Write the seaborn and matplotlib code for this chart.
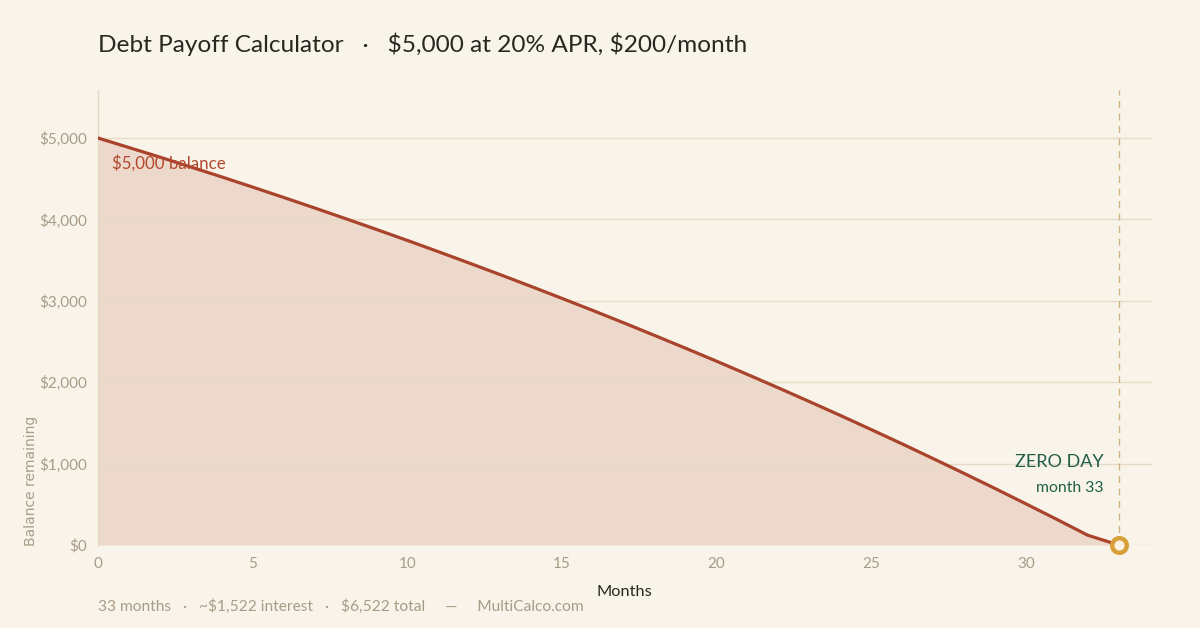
import numpy as np
import pandas as pd
import seaborn as sns
import matplotlib.pyplot as plt
from matplotlib.ticker import FuncFormatter

# balance remaining at the end of each month
months = list(range(0, 34))
balance = [5000, 4883, 4765, 4644, 4522, 4397, 4270, 4141, 4010, 3877,
           3742, 3604, 3464, 3322, 3177, 3030, 2881, 2729, 2574, 2417,
           2258, 2095, 1930, 1762, 1592, 1418, 1242, 1062, 880, 695,
           506, 315, 120, 0]
payoff_month = 33
x_ticks = [0, 5, 10, 15, 20, 25, 30]
y_ticks = [0, 1000, 2000, 3000, 4000, 5000]

df = pd.DataFrame({"Month": months, "Balance": balance})

# --- style ---
bg = "#f9f4ea"
line_c = "#a9432c"
fill_c = "#edd9cb"
grid_c = "#e6d9c4"
tick_c = "#a89c88"
green = "#1f5e46"
gold = "#d9a03a"

sns.set_theme(style="white")
plt.rcParams["font.family"] = ["Lato", "DejaVu Sans"]
plt.rcParams["text.parse_math"] = False

fig = plt.figure(figsize=(12, 6.28), dpi=100, facecolor=bg)
ax = fig.add_axes([0.0817, 0.1322, 0.8783, 0.7245])
ax.set_facecolor(bg)

ax.fill_between(df["Month"], df["Balance"], 0, color=fill_c, zorder=1, lw=0)
for yt in y_ticks:
    ax.axhline(yt, color=grid_c, lw=1, zorder=2, alpha=0.9)
sns.lineplot(data=df, x="Month", y="Balance", color=line_c, lw=2.3, ax=ax, zorder=3)

# zero day marker
ax.axvline(payoff_month, color="#c4a46c", lw=1, ls=(0, (5, 4)), zorder=2, alpha=0.8)
ax.scatter([payoff_month], [0], s=110, facecolor="#fbf3e2", edgecolor=gold,
           linewidth=3.2, zorder=5, clip_on=False)

ax.set_xlim(0, 34.08)
ax.set_ylim(0, 5590)
ax.set_xticks(x_ticks)
ax.set_yticks(y_ticks)
ax.yaxis.set_major_formatter(FuncFormatter(lambda v, p: f"${v:,.0f}"))
ax.tick_params(axis="both", colors=tick_c, labelsize=11, length=0, pad=8)
ax.tick_params(axis="x", length=5, width=0.8, color=grid_c, pad=4)

for s in ["top", "right", "bottom"]:
    ax.spines[s].set_visible(False)
ax.spines["left"].set_color(grid_c)
ax.spines["left"].set_linewidth(1)

ax.set_xlabel("")
ax.set_ylabel("")
fig.text(0.52, 0.058, "Months", ha="center", va="center", fontsize=11.8, color="#2a2620")
fig.text(0.026, 0.235, "Balance remaining", ha="center", va="center", rotation=90,
         fontsize=10, color=tick_c, family=["DejaVu Sans"])

# annotations
ax.text(0.45, 4693, "$5,000 balance", fontsize=12.2, color="#b4482f", va="center", ha="left")
ax.text(32.5, 1020, "ZERO DAY", fontsize=13, color=green, ha="right", va="center")
ax.text(32.5, 705, "month 33", fontsize=11.3, color=green, ha="right", va="center")

fig.text(0.0817, 0.93, "Debt Payoff Calculator   \u00b7   $5,000 at 20% APR, $200/month",
         fontsize=17.6, color="#2a2620", ha="left", va="center")
fig.text(0.0817, 0.035,
         "33 months   \u00b7   ~$1,522 interest   \u00b7   $6,522 total     \u2014     MultiCalco.com",
         fontsize=11.2, color=tick_c, ha="left", va="center")

fig.savefig("out.png", dpi=100, facecolor=bg)
